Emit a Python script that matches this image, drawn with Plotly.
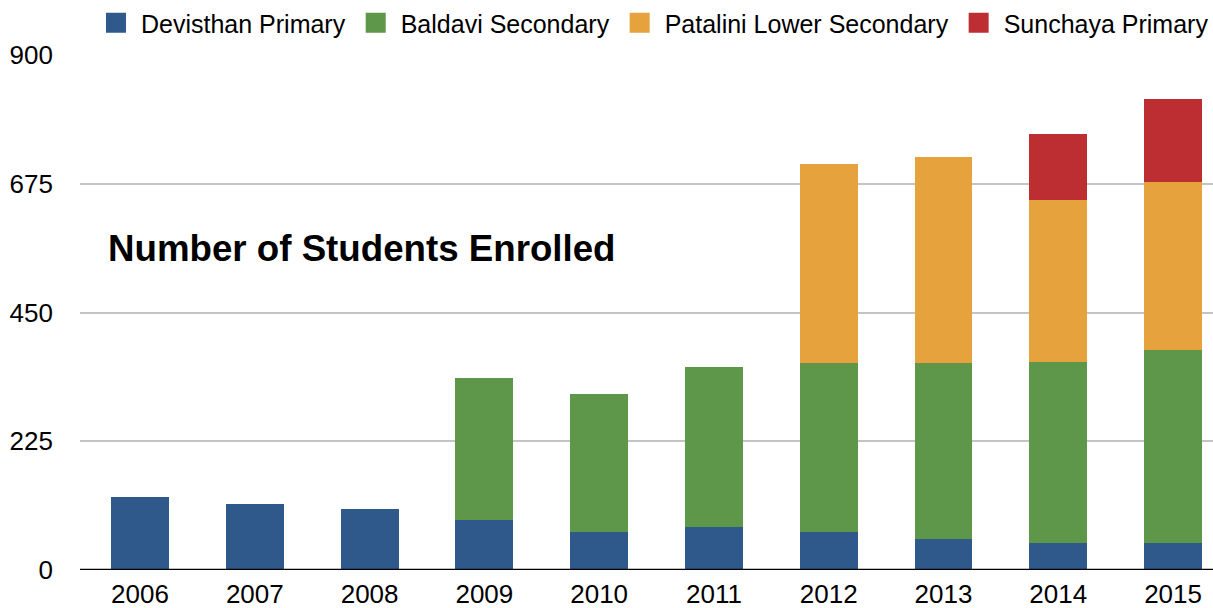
import plotly.graph_objects as go

years = ["2006", "2007", "2008", "2009", "2010", "2011", "2012", "2013", "2014", "2015"]
devisthan = [128, 116, 107, 88, 67, 75, 67, 54, 47, 47]
baldavi = [0, 0, 0, 248, 241, 280, 294, 307, 317, 337]
patalini = [0, 0, 0, 0, 0, 0, 348, 360, 282, 294]
sunchaya = [0, 0, 0, 0, 0, 0, 0, 0, 116, 145]
y_ticks = [0, 225, 450, 675, 900]

series = [
    ("Devisthan Primary", devisthan, "#2f598b"),
    ("Baldavi Secondary", baldavi, "#5e974a"),
    ("Patalini Lower Secondary", patalini, "#e6a23d"),
    ("Sunchaya Primary", sunchaya, "#bd2e32"),
]

FONT = "Liberation Sans, Arial, Helvetica, sans-serif"

fig = go.Figure()
for name, vals, col in series:
    fig.add_trace(go.Bar(x=years, y=vals, name=name, marker=dict(color=col, line=dict(width=0)),
                         width=0.505, showlegend=False))
for name, vals, col in series:
    fig.add_trace(go.Scatter(x=[None], y=[None], mode="markers", name=name,
                             marker=dict(symbol="square", size=16, color=col,
                                         line=dict(color=col, width=4))))

fig.add_shape(type="line", xref="x", yref="y", x0=-0.523, x1=9.348, y0=0, y1=0,
              line=dict(color="black", width=2.5), layer="above")

fig.add_annotation(text="<b>Number of Students Enrolled</b>", xref="paper", yref="paper",
                   x=0.023, y=0.625, xanchor="left", yanchor="middle", showarrow=False,
                   font=dict(family=FONT, size=36.7, color="black"))

fig.update_layout(
    barmode="stack",
    width=1213, height=608,
    margin=dict(l=80, r=0, t=55, b=38, autoexpand=False),
    paper_bgcolor="white", plot_bgcolor="white",
    font=dict(family=FONT, size=26, color="black"),
    legend=dict(orientation="h", traceorder="normal", xref="container", yref="container",
                x=0.075, y=1.0, xanchor="left", yanchor="top",
                font=dict(size=25, color="black"),
                itemwidth=40, tracegroupgap=0, bgcolor="rgba(0,0,0,0)"),
    xaxis=dict(type="category", range=[-0.523, 9.348], showgrid=False, showline=False,
               zeroline=False, ticks="", tickfont=dict(size=26, color="black"),
               ticklabelstandoff=6),
    yaxis=dict(range=[0, 900], tickvals=y_ticks, ticktext=[str(v) for v in y_ticks],
               showgrid=True, gridcolor="#c4c4c4", gridwidth=2, zeroline=False,
               showline=False, ticks="", tickfont=dict(size=26, color="black"),
               ticklabelstandoff=26),
)

fig.write_html("out.html", config={"displayModeBar": False},
               post_script="document.body.style.margin='0';document.body.style.padding='0';")
